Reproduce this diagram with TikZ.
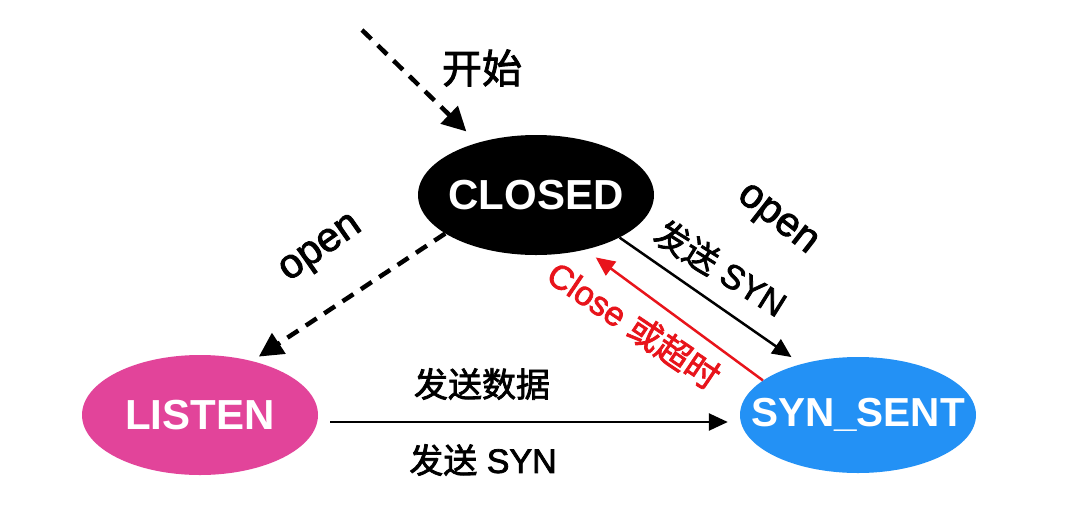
\documentclass[tikz,border=0pt]{standalone}
\usepackage{fontspec}
\setmainfont{Liberation Sans}
\newfontfamily\lab[FakeBold=2.2]{Liberation Sans}
\newfontfamily\cjk[FakeBold=2.2]{Noto Sans CJK SC}
\usetikzlibrary{shapes.geometric,arrows.meta}
\definecolor{listenpink}{HTML}{E2449A}
\definecolor{synblue}{HTML}{2391F5}
\definecolor{closered}{HTML}{E8141B}
\newcommand{\nb}[1]{\makebox[0pt]{#1}}
\begin{document}
\begin{tikzpicture}[x=1pt,y=-1pt,
  state/.style={ellipse, inner sep=0pt, minimum width=236pt, minimum height=120pt,
    text=white, font=\fontsize{42}{48}\selectfont\bfseries},
  lbl/.style={inner sep=0pt, font=\fontsize{34}{40}\selectfont\lab},
  solidarrow/.style={line width=2.5pt, -{Triangle[length=19pt,width=17pt]}},
  dasharrow/.style={line width=4.5pt, dash pattern=on 13pt off 9pt,
    -{Triangle[length=24pt,width=24pt]}}
]
\fill[white] (0,0) rectangle (1080,504);
\useasboundingbox (0,0) rectangle (1080,504);

\node[state, fill=black] (CLOSED) at (536,195) {\nb{CLOSED}};
\node[state, fill=listenpink] (LISTEN) at (200,415) {\nb{LISTEN}};
\node[state, fill=synblue, minimum height=116pt, font=\fontsize{40.5}{46}\selectfont\bfseries] (SYN) at (858,415) {\nb{SYN\_SENT}};

\coordinate (start) at (362,30);
\draw[dasharrow, shorten >=16pt] (start) -- (CLOSED.138);
\draw[dasharrow, shorten >=8pt] (CLOSED.203) -- (LISTEN.46);
\draw[solidarrow, shorten >=12pt] (CLOSED.333) -- (SYN.138);
\draw[solidarrow, closered, shorten >=13pt] (SYN.160) -- (CLOSED.312);
\draw[solidarrow, shorten <=12pt, shorten >=12pt]
  ([yshift=-7pt]LISTEN.east) -- ([yshift=-7pt]SYN.west);

\node[lbl, font=\fontsize{40}{46}\selectfont\cjk] (kaishi) at (482,68) {开始};
\node[lbl, font=\fontsize{41}{46}\selectfont\lab, rotate=35] (openL) at (322,250) {open};
\node[lbl, font=\fontsize{41}{46}\selectfont\lab, rotate=-38] (openR) at (776,221) {open};
\node[lbl, rotate=-32] (synR) at (721,268) {{\cjk 发送} SYN};
\node[lbl, text=closered, rotate=-34] (closeL) at (634,325) {Close {\cjk 或超时}};
\node[lbl] (data) at (482,384) {\cjk 发送数据};
\node[lbl] (synB) at (483,460) {{\cjk 发送} SYN};
\end{tikzpicture}
\end{document}
